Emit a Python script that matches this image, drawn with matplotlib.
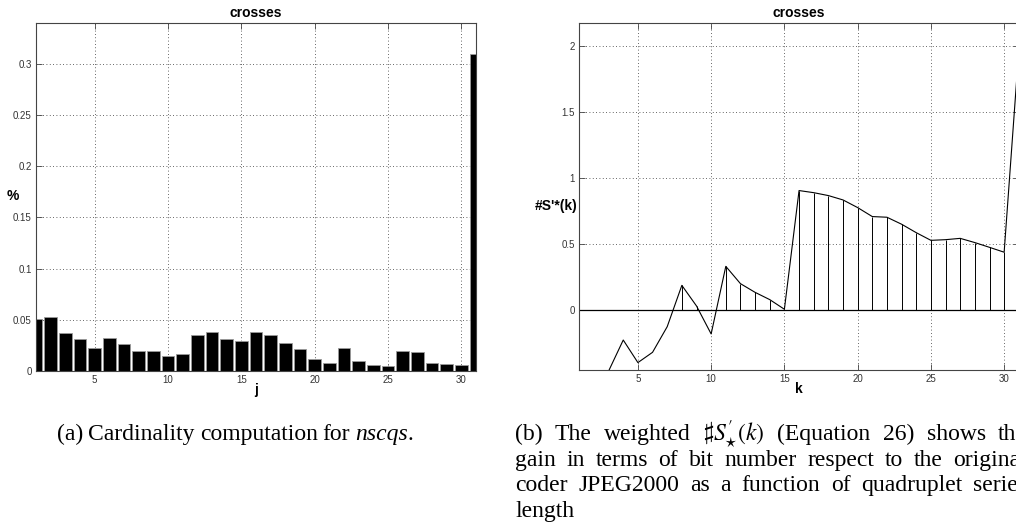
import numpy as np
import matplotlib

matplotlib.use("Agg")
import matplotlib.pyplot as plt

# ---- data ----
j = list(range(1, 32))
pct = [0.051, 0.053, 0.037, 0.031, 0.0227, 0.0318, 0.026, 0.0198, 0.0198, 0.0143,
       0.0162, 0.035, 0.0383, 0.0315, 0.0289, 0.0383, 0.035, 0.0276, 0.0211, 0.012,
       0.0081, 0.0227, 0.0094, 0.0062, 0.0045, 0.0192, 0.0185, 0.0075, 0.0068, 0.0055,
       0.31]

k = list(range(1, 32))
gain = [-1.1, -0.8, -0.46, -0.225, -0.396, -0.318, -0.124, 0.189, 0.033, -0.179,
        0.333, 0.202, 0.136, 0.081, 0.008, 0.907, 0.891, 0.869, 0.836, 0.778,
        0.710, 0.705, 0.652, 0.588, 0.530, 0.535, 0.545, 0.513, 0.477, 0.440,
        1.97]

xticks = [5, 10, 15, 20, 25, 30]
yticks_a = [0, 0.05, 0.1, 0.15, 0.2, 0.25, 0.3]
ylabels_a = ["0", "0.05", "0.1", "0.15", "0.2", "0.25", "0.3"]
yticks_b = [0, 0.5, 1, 1.5, 2]
ylabels_b = ["0", "0.5", "1", "1.5", "2"]

cap_a = [("(a)", "normal"), ("Cardinality", "normal"), ("computation", "normal"),
         ("for", "normal"), ("nscqs", "italic")]
cap_b = [
    ["(b)", "The", "weighted", r"$\sharp S^{\prime}_{\star}(k)$", "(Equation", "26)",
     "shows", "the"],
    "gain in terms of bit number respect to the original".split(),
    "coder JPEG2000 as a function of quadruplet series".split(),
    ["length"],
]

W, H = 1016, 531
plt.rcParams["font.family"] = ["Liberation Sans", "DejaVu Sans"]
plt.rcParams["mathtext.fontset"] = "stix"

fig = plt.figure(figsize=(W / 100, H / 100), dpi=100)


def style_axes(ax):
    for s in ax.spines.values():
        s.set_color("#444444")
        s.set_linewidth(0.8)
    ax.tick_params(direction="in", top=True, right=True, length=4, width=0.6,
                   labelsize=7, labelcolor="#333333", color="#444444", pad=3)
    ax.grid(True, color="#333333", linestyle=(0, (1, 3)), linewidth=0.6)
    ax.set_axisbelow(True)
    ax.set_xticks(xticks)
    ax.set_xticklabels([str(t) for t in xticks])
    ax.set_title("crosses", fontsize=10, fontweight="bold", pad=4.5)


# ---- (a) bar chart ----
ax1 = fig.add_axes([36 / W, 1 - 371 / H, 440 / W, 348 / H])
ax1.bar(j, pct, width=0.88, color="black", edgecolor="#9a9a9a", linewidth=0.6)
ax1.set_xlim(1, 31)
ax1.set_ylim(0, 0.34)
ax1.set_yticks(yticks_a)
ax1.set_yticklabels(ylabels_a)
style_axes(ax1)
ax1.set_xlabel("j", fontsize=10, fontweight="bold", va="top")
ax1.xaxis.set_label_coords(0.5, (371 - 383) / 348)
ax1.set_ylabel("%", fontsize=10, fontweight="bold", rotation=0, ha="center", va="center")
ax1.yaxis.set_label_coords((12.5 - 36) / 440, (371 - 196) / 348)

# ---- (b) weighted gain ----
ax2 = fig.add_axes([579.3 / W, 1 - 370 / H, 439.5 / W, 347 / H])
ax2.axhline(0, color="black", linewidth=0.9)
g = np.array(gain)
pos = g > 0
ax2.vlines(np.array(k)[pos], 0, g[pos], color="black", linewidth=0.7)
ax2.plot(k, gain, color="black", linewidth=0.8)
ax2.set_xlim(1, 31)
ax2.set_ylim(-0.452, 2.176)
ax2.set_yticks(yticks_b)
ax2.set_yticklabels(ylabels_b)
style_axes(ax2)
ax2.set_xlabel("k", fontsize=10, fontweight="bold", va="top")
ax2.xaxis.set_label_coords(0.5, (370 - 382) / 347)
ax2.set_ylabel("#S'*(k)", fontsize=10, fontweight="bold", rotation=0, ha="right", va="center")
ax2.yaxis.set_label_coords((577.5 - 579.3) / 439.5, (370 - 206) / 347)

# ---- captions (serif, justified like the LaTeX source) ----
renderer = fig.canvas.get_renderer()
cap_font = dict(family=["Liberation Serif", "DejaVu Serif"], fontsize=17)


def put_words(words, x0, y_base, right=None, gap=5.0):
    texts = []
    for w, st in words:
        t = fig.text(0, 1 - y_base / H, w, va="baseline", ha="left", style=st, **cap_font)
        texts.append(t)
    widths = [t.get_window_extent(renderer).width for t in texts]
    if right is not None and len(texts) > 1:
        gap = (right - x0 - sum(widths)) / (len(texts) - 1)
    x = x0
    for t, wd in zip(texts, widths):
        t.set_x(x / W)
        x += wd + gap
    return x - gap


# caption (a): "." sticks to the italic word
xe = put_words(cap_a, 57, 440)
fig.text(xe / W, 1 - 440 / H, ".", va="baseline", ha="left", **cap_font)

# caption (b) is a justified column that runs past the right edge of the page
for i, line in enumerate(cap_b):
    words = [(w, "normal") for w in line]
    yb = 440 + i * 25.6
    if i < len(cap_b) - 1:
        put_words(words, 515, yb, right=1027)
    else:
        put_words(words, 515, yb)

fig.savefig("out.png", dpi=100)
